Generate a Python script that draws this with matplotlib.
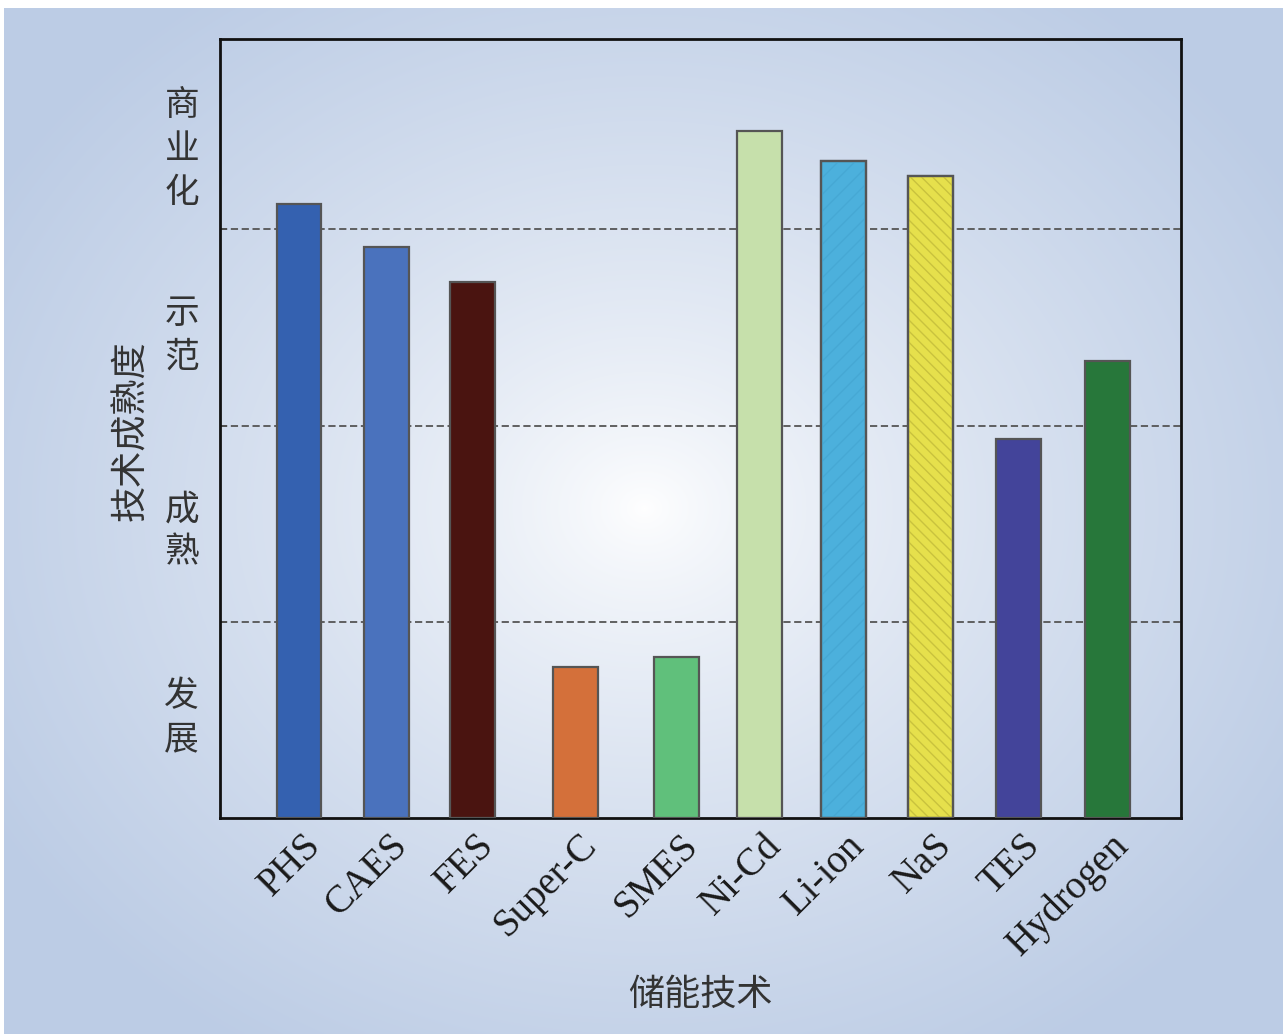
import numpy as np
import matplotlib.pyplot as plt
import matplotlib.transforms as mtransforms

plt.rcParams['font.family'] = ['Noto Sans CJK SC', 'DejaVu Sans']

# data
techs = ['PHS', 'CAES', 'FES', 'Super-C', 'SMES', 'Ni-Cd', 'Li-ion', 'NaS', 'TES', 'Hydrogen']
maturity = [3.13, 2.91, 2.73, 0.77, 0.82, 3.50, 3.35, 3.27, 1.93, 2.33]
colors = ['#3461b0', '#4a72bd', '#4a1410', '#d4703a', '#60c07b',
          '#c6e0ab', '#4cb0dc', '#e6e04c', '#43449a', '#27773a']
hatches = ['', '', '', '', '', '', '//', '\\\\\\', '', '']
hatch_colors = [None, None, None, None, None, None, '#46a8d4', '#c9c23e', None, None]
stages = ['发\n展', '成\n熟', '示\n范', '商\n业\n化']

# layout (bar centres, slightly uneven as in the source)
bar_pos = [0, 0.97, 1.93, 3.08, 4.2, 5.13, 6.06, 7.03, 8.01, 9.0]

W, H = 1283, 1034
fig = plt.figure(figsize=(W / 100, H / 100), dpi=100, facecolor='white')

# radial background
bg = fig.add_axes([4 / W, 0, 1 - 4 / W, 1 - 8 / H])
yy, xx = np.mgrid[0:H - 8, 0:W - 4]
r = np.sqrt(((xx - 640) / 760.0) ** 2 + ((yy - 500) / 640.0) ** 2)
t = np.clip(r, 0, 1) ** 0.75
edge = np.array([188, 204, 229]) / 255.0
img = (1 - t)[..., None] * np.array([1.0, 1.0, 1.0]) + t[..., None] * edge
bg.imshow(img, aspect='auto', interpolation='bilinear')
bg.axis('off')

ax = fig.add_axes([220 / W, 1 - 818 / H, (1181 - 220) / W, (818 - 39) / H])
ax.patch.set_alpha(0)

ax.bar(bar_pos, maturity, width=0.5, color=colors, edgecolor='#555555', linewidth=1.6, zorder=3)
for i in range(len(techs)):
    if hatches[i]:
        ax.bar(bar_pos[i], maturity[i], width=0.5, facecolor='none', edgecolor=hatch_colors[i],
               linewidth=0, hatch=hatches[i], zorder=4)
        ax.bar(bar_pos[i], maturity[i], width=0.5, facecolor='none', edgecolor='#555555',
               linewidth=1.6, zorder=5)

for lvl in [1, 2, 3]:
    ax.axhline(lvl, color='#555555', linestyle=(0, (4, 2)), linewidth=1.3, zorder=2)

ax.set_xlim(-0.88, 9.82)
ax.set_ylim(0, 3.97)

ax.set_yticks([1, 2, 3])
ax.set_yticklabels([])
ax.tick_params(axis='y', which='major', direction='in', length=5, width=1.2)
ax.set_yticks([0.55, 1.5, 2.5, 3.45], minor=True)
ax.set_yticklabels(stages, minor=True, fontsize=25, color='#333333', linespacing=1.3)
ax.tick_params(axis='y', which='minor', length=0, pad=15)

ax.set_xticks(bar_pos)
ax.set_xticklabels(techs, rotation=45, ha='right', va='center', rotation_mode='anchor',
                   family='Liberation Serif', fontsize=28, color='#1a1a1a')
ax.tick_params(axis='x', length=0, pad=16)
shift = mtransforms.ScaledTranslation(0.16, 0, fig.dpi_scale_trans)
for lab in ax.get_xticklabels():
    lab.set_transform(lab.get_transform() + shift)

for s in ax.spines.values():
    s.set_linewidth(2)
    s.set_color('#111111')

ax.set_ylabel('技术成熟度', fontsize=26, color='#333333')
ax.yaxis.set_label_coords(-0.074, 0.497)
ax.set_xlabel('储能技术', fontsize=26, color='#333333', labelpad=10)

fig.savefig('out.png', dpi=100, facecolor='white')
